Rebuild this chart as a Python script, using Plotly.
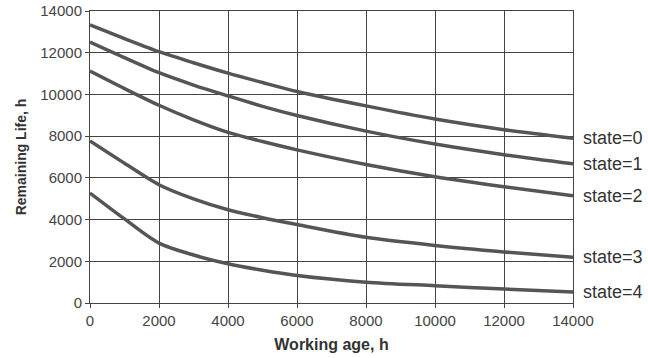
import plotly.graph_objects as go

# Working age (h) at which remaining life is tabulated
working_age = [0, 1000, 2000, 3000, 4000, 5000, 6000, 8000, 10000, 12000, 14000]

# Remaining life (h) for each degradation state
state_0 = [13330, 12680, 12050, 11520, 11020, 10570, 10140, 9450, 8820, 8310, 7900]
state_1 = [12510, 11760, 11040, 10450, 9930, 9430, 8990, 8240, 7620, 7110, 6670]
state_2 = [11120, 10280, 9480, 8780, 8180, 7740, 7340, 6640, 6050, 5570, 5140]
state_3 = [7770, 6700, 5670, 4990, 4470, 4090, 3760, 3150, 2760, 2450, 2190]
state_4 = [5270, 4030, 2870, 2300, 1880, 1570, 1320, 1000, 830, 670, 530]

series = [("state=0", state_0), ("state=1", state_1), ("state=2", state_2),
          ("state=3", state_3), ("state=4", state_4)]

x_ticks = [0, 2000, 4000, 6000, 8000, 10000, 12000, 14000]
y_ticks = [0, 2000, 4000, 6000, 8000, 10000, 12000, 14000]

FONT = "Liberation Sans, Arial, sans-serif"

fig = go.Figure()
for name, vals in series:
    fig.add_trace(go.Scatter(
        x=working_age, y=vals, mode="lines", name=name,
        line=dict(color="#555555", width=3.5, shape="spline", smoothing=0.8),
        showlegend=False, cliponaxis=False,
    ))
    fig.add_annotation(
        x=working_age[-1], y=vals[-1], text=name, showarrow=False,
        xanchor="left", yanchor="middle", xshift=8,
        font=dict(family=FONT, size=18, color="#333333"),
    )

axis_common = dict(
    showgrid=True, gridcolor="#444444", gridwidth=1,
    showline=True, linecolor="#444444", linewidth=1, mirror=True,
    ticks="outside", ticklen=4, tickcolor="#444444",
    zeroline=False, automargin=False,
    tickfont=dict(family=FONT, size=15, color="#444444"),
)

fig.update_xaxes(range=[0, 14000], tickvals=x_ticks,
                 ticktext=[str(v) for v in x_ticks],
                 title=dict(text="<b>Working age, h</b>", standoff=10,
                            font=dict(family=FONT, size=16, color="#333333")),
                 **axis_common)
fig.update_yaxes(range=[0, 14000], tickvals=y_ticks,
                 ticktext=[str(v) for v in y_ticks],
                 title=dict(text="<b>Remaining Life, h</b>", standoff=10,
                            font=dict(family=FONT, size=14, color="#333333")),
                 **axis_common)

fig.update_layout(
    width=648, height=358,
    margin=dict(l=90, r=75, t=11, b=55),
    plot_bgcolor="white", paper_bgcolor="white",
)

fig.write_html("out.html")
